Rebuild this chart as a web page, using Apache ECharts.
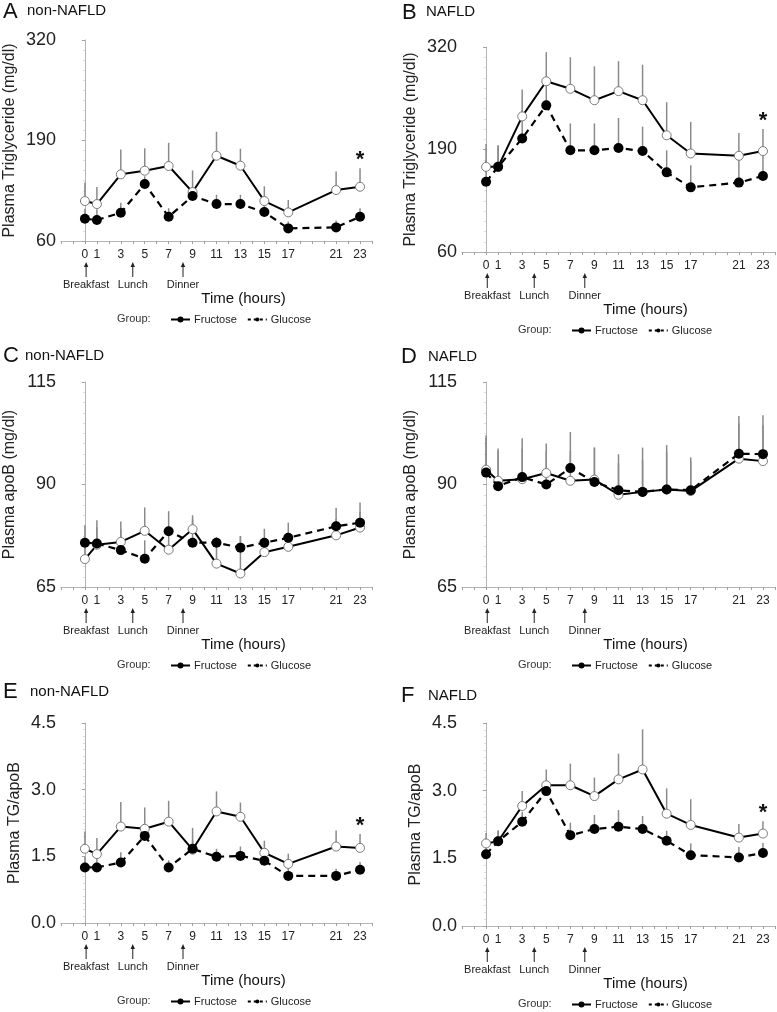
<!DOCTYPE html>
<html><head><meta charset="utf-8">
<script src="https://cdn.jsdelivr.net/npm/echarts@6/dist/echarts.min.js"></script>
<style>html,body{margin:0;padding:0;background:#fff}#c{width:777px;height:1012px}</style>
</head><body><div id="c"></div>
<script>
// ---------- data ----------
const hours = [0, 1, 3, 5, 7, 9, 11, 13, 15, 17, 21, 23];
const xTickLabels = [0, 1, 3, 5, 7, 9, 11, 13, 15, 17, 21, 23];
const mealHours = [0.1, 4, 8.2];
const mealNames = ['Breakfast', 'Lunch', 'Dinner'];
const groupNames = ['Fructose', 'Glucose'];
const panelLetters = ['A', 'B', 'C', 'D', 'E', 'F'];
const panelTitles = ['non-NAFLD', 'NAFLD', 'non-NAFLD', 'NAFLD', 'non-NAFLD', 'NAFLD'];
const yAxisNames = ['Plasma Triglyceride (mg/dl)', 'Plasma Triglyceride (mg/dl)', 'Plasma apoB (mg/dl)', 'Plasma apoB (mg/dl)', 'Plasma TG/apoB', 'Plasma TG/apoB'];
const xAxisName = 'Time (hours)';
const tgTicks = [60, 190, 320];
const apoBTicks = [65, 90, 115];
const ratioTicks = [0, 1.5, 3, 4.5];
const significantHour = 23;

// A: TG, non-NAFLD
const tgNonFructose = [111.7, 107.8, 146.2, 150.9, 157, 123.3, 170.3, 157.4, 111.7, 97, 125.9, 130.2];
const tgNonFructoseSem = [24, 22, 32, 29, 30, 28, 31, 22, 19, 16, 24, 24];
const tgNonGlucose = [88.8, 87.1, 96.6, 133.7, 91.4, 118.1, 107.8, 107.8, 97.4, 76.3, 77.6, 91.4];
const tgNonGlucoseSem = [13, 14, 13, 10, 11, 12, 12, 12, 12, 9, 9, 11];
// B: TG, NAFLD
const tgNafldFructose = [168, 168, 232, 276.5, 267, 252.5, 264, 252.5, 208, 185, 182, 188];
const tgNafldFructoseSem = [29, 27, 34, 37, 40, 43, 38, 45, 42, 40, 29, 28];
const tgNafldGlucose = [149, 168, 204, 246, 189, 189, 192, 188, 161, 142, 148, 156.5];
const tgNafldGlucoseSem = [28, 27, 36, 28, 34, 34, 38, 31, 28, 28, 34, 32];
// C: apoB, non-NAFLD
const apoBNonFructose = [71.8, 75.3, 76, 78.7, 74.1, 79.1, 70.7, 68.3, 73.5, 74.8, 77.6, 79.5];
const apoBNonFructoseSem = [3, 4.3, 5, 5.7, 4, 3.4, 6.5, 9.1, 3, 2, 4, 3.8];
const apoBNonGlucose = [75.8, 75.6, 74, 71.9, 78.6, 75.8, 75.8, 74.6, 75.8, 77, 79.8, 80.7];
const apoBNonGlucoseSem = [4.2, 5.7, 5, 4.5, 4.9, 5.7, 1.2, 2.8, 3.4, 3.7, 4.5, 4.9];
// D: apoB, NAFLD
const apoBNafldFructose = [93.6, 90.9, 91.3, 92.8, 90.9, 91.2, 87.5, 88.2, 88.8, 88.4, 96.3, 95.7];
const apoBNafldFructoseSem = [8.4, 7.9, 10, 7.2, 7.3, 7.8, 9.9, 10.8, 10.8, 8.2, 10.4, 11.2];
const apoBNafldGlucose = [92.9, 89.6, 91.8, 90, 94, 90.6, 88.6, 88.2, 88.8, 88.6, 97.5, 97.4];
const apoBNafldGlucoseSem = [8.5, 8.6, 6.9, 8.2, 8.8, 8.4, 6.6, 7.7, 9.2, 7, 7.4, 7];
// E: TG/apoB, non-NAFLD
const ratioNonFructose = [1.67, 1.55, 2.17, 2.12, 2.28, 1.65, 2.51, 2.39, 1.58, 1.33, 1.72, 1.69];
const ratioNonFructoseSem = [0.39, 0.36, 0.55, 0.48, 0.47, 0.49, 0.45, 0.32, 0.27, 0.23, 0.36, 0.31];
const ratioNonGlucose = [1.25, 1.25, 1.36, 1.96, 1.25, 1.67, 1.49, 1.51, 1.4, 1.06, 1.06, 1.2];
const ratioNonGlucoseSem = [0.24, 0.22, 0.23, 0.14, 0.16, 0.2, 0.18, 0.21, 0.19, 0.18, 0.16, 0.17];
// F: TG/apoB, NAFLD
const ratioNafldFructose = [1.83, 1.88, 2.66, 3.12, 3.12, 2.88, 3.25, 3.47, 2.49, 2.24, 1.96, 2.05];
const ratioNafldFructoseSem = [0.23, 0.24, 0.33, 0.35, 0.48, 0.41, 0.57, 0.89, 0.56, 0.57, 0.3, 0.27];
const ratioNafldGlucose = [1.59, 1.88, 2.31, 2.99, 2.01, 2.15, 2.2, 2.15, 1.89, 1.57, 1.52, 1.62];
const ratioNafldGlucoseSem = [0.21, 0.22, 0.22, 0.21, 0.28, 0.31, 0.37, 0.29, 0.22, 0.26, 0.23, 0.22];

// ---------- layout ----------
const FONT = '"Liberation Sans", Arial, sans-serif';
const gridRects = [
  {left: 61, top: 40, width: 311, height: 201},
  {left: 462, top: 47, width: 313, height: 205},
  {left: 61, top: 382, width: 311, height: 205},
  {left: 462, top: 382, width: 313, height: 205},
  {left: 61, top: 723, width: 311, height: 200},
  {left: 462, top: 723, width: 313, height: 203}
];
const letterPos = [[3, 12.5, 27], [402, 13.5, 426], [3, 357, 25], [401, 358, 428], [3, 693, 30], [401, 697, 428]];
const nameGaps = [43, 43, 43, 43, 38, 38];

const panels = [
  {ticks: tgTicks, dec: 0, fru: tgNonFructose, fruSem: tgNonFructoseSem, glu: tgNonGlucose, gluSem: tgNonGlucoseSem, star: true},
  {ticks: tgTicks, dec: 0, fru: tgNafldFructose, fruSem: tgNafldFructoseSem, glu: tgNafldGlucose, gluSem: tgNafldGlucoseSem, star: true},
  {ticks: apoBTicks, dec: 0, fru: apoBNonFructose, fruSem: apoBNonFructoseSem, glu: apoBNonGlucose, gluSem: apoBNonGlucoseSem, star: false},
  {ticks: apoBTicks, dec: 0, fru: apoBNafldFructose, fruSem: apoBNafldFructoseSem, glu: apoBNafldGlucose, gluSem: apoBNafldGlucoseSem, star: false},
  {ticks: ratioTicks, dec: 1, fru: ratioNonFructose, fruSem: ratioNonFructoseSem, glu: ratioNonGlucose, gluSem: ratioNonGlucoseSem, star: true},
  {ticks: ratioTicks, dec: 1, fru: ratioNafldFructose, fruSem: ratioNafldFructoseSem, glu: ratioNafldGlucose, gluSem: ratioNafldGlucoseSem, star: true}
];

const chart = echarts.init(document.getElementById('c'), null, {renderer: 'canvas'});

const grids = [], xAxes = [], yAxes = [], series = [], legends = [];

function errRender(params, api) {
  const x = api.value(0), y = api.value(1), e = api.value(2);
  const p0 = api.coord([x, y]);
  const p1 = api.coord([x, y + e]);
  return {type: 'line', shape: {x1: p0[0], y1: p0[1], x2: p1[0], y2: p1[1]},
    style: {stroke: '#8a8a8a', lineWidth: 1.5}};
}

panels.forEach((p, i) => {
  const g = gridRects[i];
  grids.push({left: g.left, top: g.top, width: g.width, height: g.height, containLabel: false, outerBoundsMode: 'none'});
  xAxes.push({
    type: 'value', gridIndex: i, min: -2, max: 24, interval: 1,
    axisLine: {show: true, onZero: false, lineStyle: {color: '#b5b5b5', width: 1}},
    axisTick: {show: true, length: 3, lineStyle: {color: '#a0a0a0'}},
    splitLine: {show: false},
    axisLabel: {margin: 8, fontSize: 12, color: '#222', fontFamily: FONT,
      formatter: v => xTickLabels.indexOf(v) >= 0 ? String(v) : ''}
  });
  const t = p.ticks;
  yAxes.push({
    type: 'value', gridIndex: i, min: t[0], max: t[t.length - 1], interval: t[1] - t[0],
    name: yAxisNames[i], nameLocation: 'middle', nameGap: nameGaps[i],
    nameTextStyle: {fontSize: 16, color: '#222', fontFamily: FONT},
    axisLine: {show: true, lineStyle: {color: '#b5b5b5', width: 1}},
    axisTick: {show: true, length: 3, lineStyle: {color: '#a0a0a0'}},
    minorTick: {show: true, splitNumber: 10, length: 2, lineStyle: {color: '#dcdcdc'}},
    splitLine: {show: false},
    axisLabel: {margin: 5, fontSize: 18, color: '#222', fontFamily: FONT,
      formatter: v => v.toFixed(p.dec)}
  });
  series.push({
    type: 'custom', name: 'Fructose SEM', xAxisIndex: i, yAxisIndex: i, z: 1,
    renderItem: errRender, encode: {x: 0, y: 1}, silent: true,
    data: hours.map((h, k) => [h, p.fru[k], p.fruSem[k]])
  });
  series.push({
    type: 'custom', name: 'Glucose SEM', xAxisIndex: i, yAxisIndex: i, z: 1,
    renderItem: errRender, encode: {x: 0, y: 1}, silent: true,
    data: hours.map((h, k) => [h, p.glu[k], p.gluSem[k]])
  });
  series.push({
    type: 'line', name: 'Fructose', xAxisIndex: i, yAxisIndex: i, z: 3,
    data: hours.map((h, k) => [h, p.fru[k]]),
    symbol: 'circle', symbolSize: 9, showAllSymbol: true,
    lineStyle: {color: '#000', width: 2},
    itemStyle: {color: '#fff', borderColor: '#7a7a7a', borderWidth: 1},
    emphasis: {disabled: true}, animation: false
  });
  series.push({
    type: 'line', name: 'Glucose', xAxisIndex: i, yAxisIndex: i, z: 4,
    data: hours.map((h, k) => [h, p.glu[k]]),
    symbol: 'circle', symbolSize: 10, showAllSymbol: true,
    lineStyle: {color: '#000', width: 2.2, type: [7, 5]},
    itemStyle: {color: '#000', borderColor: '#000', borderWidth: 0},
    emphasis: {disabled: true}, animation: false
  });
  const axisY = g.top + g.height;
  legends.push({
    left: g.left + 104, top: axisY + 68, orient: 'horizontal',
    itemWidth: 19, itemHeight: 5, itemGap: 10, selectedMode: false,
    textStyle: {fontSize: 11, color: '#222', fontFamily: FONT, padding: [0, 0, 0, -1]},
    data: [
      {name: 'Fructose', itemStyle: {color: '#000', borderColor: '#000'}, lineStyle: {type: 'solid', width: 2}},
      {name: 'Glucose', itemStyle: {color: '#000', borderColor: '#000'}, lineStyle: {type: [3, 3], width: 2}}
    ]
  });
});

chart.setOption({
  animation: false,
  backgroundColor: '#fff',
  textStyle: {fontFamily: FONT},
  grid: grids, xAxis: xAxes, yAxis: yAxes, series: series, legend: legends
});

// annotations positioned through the axes
const graphics = [];
panels.forEach((p, i) => {
  const g = gridRects[i];
  const axisY = g.top + g.height;
  const lp = letterPos[i];
  graphics.push({type: 'text', left: lp[0], top: lp[1] - 12, style: {text: panelLetters[i], fontSize: 22, fill: '#111', fontFamily: FONT}});
  graphics.push({type: 'text', left: lp[2], top: lp[1] - 9, style: {text: panelTitles[i], fontSize: 15, fill: '#111', fontFamily: FONT}});
  mealHours.forEach((h, k) => {
    const px = chart.convertToPixel({gridIndex: i}, [h, p.ticks[0]])[0];
    graphics.push({type: 'line', shape: {x1: px, y1: axisY + 36, x2: px, y2: axisY + 24}, style: {stroke: '#222', lineWidth: 1}});
    graphics.push({type: 'polygon', shape: {points: [[px, axisY + 21], [px - 2.2, axisY + 26], [px + 2.2, axisY + 26]]}, style: {fill: '#222'}});
    graphics.push({type: 'text', x: px, y: axisY + 44, style: {text: mealNames[k], fontSize: 11, fill: '#222', fontFamily: FONT, textAlign: 'center', textVerticalAlign: 'middle'}});
  });
  graphics.push({type: 'text', x: g.left + g.width / 2 + 27, y: axisY + 58, style: {text: xAxisName, fontSize: 15, fill: '#111', fontFamily: FONT, textAlign: 'center', textVerticalAlign: 'middle'}});
  graphics.push({type: 'text', x: g.left + 56, y: axisY + 78, style: {text: 'Group:', fontSize: 11, fill: '#333', fontFamily: FONT, textAlign: 'left', textVerticalAlign: 'middle'}});
  if (p.star) {
    const k = hours.indexOf(significantHour);
    const pt = chart.convertToPixel({gridIndex: i}, [significantHour, p.fru[k] + p.fruSem[k]]);
    graphics.push({type: 'text', x: pt[0], y: pt[1] - 8, style: {text: '*', fontSize: 22, fontWeight: 'bold', fill: '#111', fontFamily: FONT, textAlign: 'center', textVerticalAlign: 'middle'}});
  }
});
chart.setOption({graphic: graphics});
</script>
</body></html>
